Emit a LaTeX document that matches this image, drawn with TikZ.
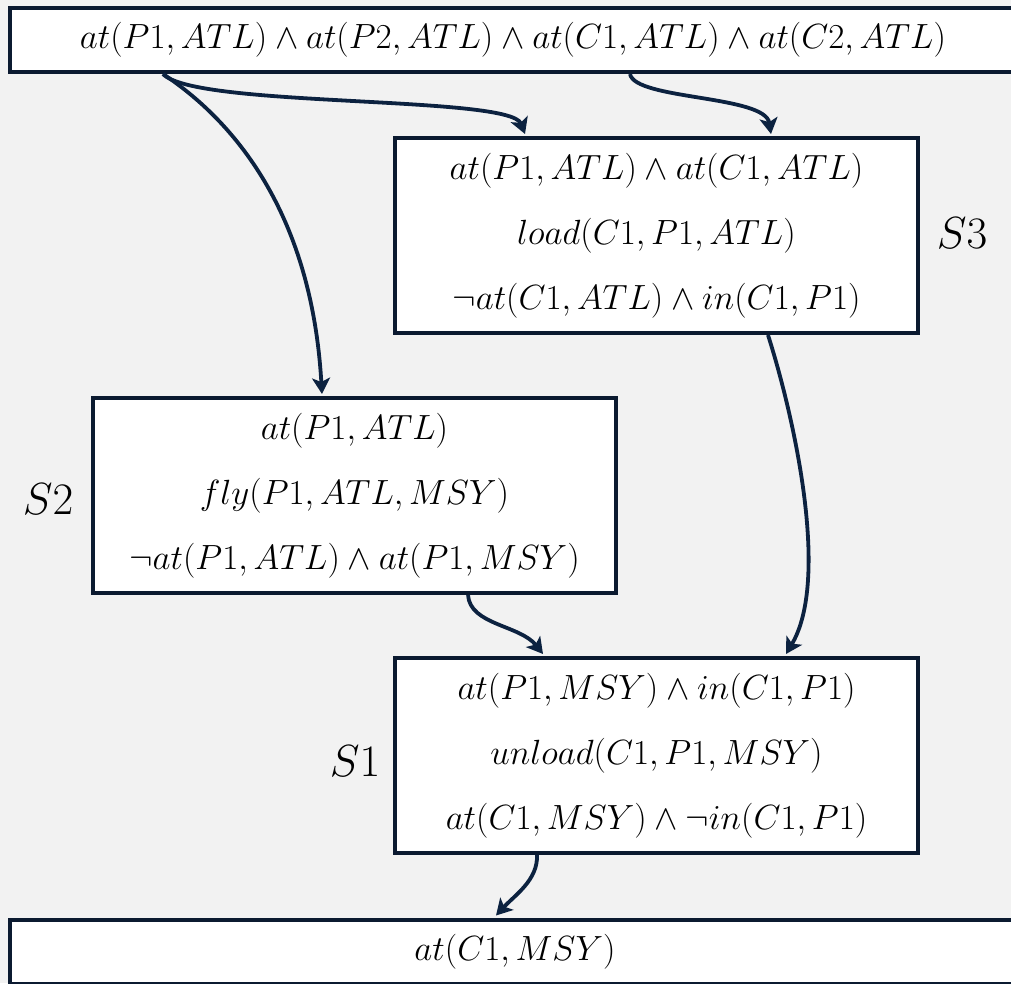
\RequirePackage{fix-cm}
\documentclass[tikz,border=0pt]{standalone}
\usetikzlibrary{arrows.meta,calc}
\definecolor{bg}{HTML}{F2F2F2}
\definecolor{navy}{HTML}{0B1A30}
\definecolor{arrowc}{HTML}{0C2240}
\begin{document}
\begin{tikzpicture}[x=1pt,y=-1pt,
  box/.style={draw=navy,line width=4pt,fill=white,inner sep=0pt,align=center,font=\fontsize{35}{65}\selectfont},
  lbl/.style={font=\fontsize{45}{50}\selectfont,inner sep=0pt},
  arr/.style={draw=arrowc,line width=3.8pt,-{Stealth[length=16pt,width=18pt,inset=4pt]}}]
\fill[bg] (0,0) rectangle (1011,983);
\useasboundingbox (0,0) rectangle (1011,983);
\begin{scope}
\clip (0,0) rectangle (1011,983);
\node[box,minimum width=1006pt,minimum height=64.5pt] (top) at (513,39.75)
  {$at(P1,ATL)\wedge at(P2,ATL)\wedge at(C1,ATL)\wedge at(C2,ATL)$};
\node[box,minimum width=523pt,minimum height=195pt] (s3) at (656.5,235.5)
  {$at(P1,ATL)\wedge at(C1,ATL)$\\ $load(C1,P1,ATL)$\\ $\neg at(C1,ATL)\wedge in(C1,P1)$};
\node[box,minimum width=523pt,minimum height=195pt] (s2) at (354.5,495.5)
  {$at(P1,ATL)$\\ $fly(P1,ATL,MSY)$\\ $\neg at(P1,ATL)\wedge at(P1,MSY)$};
\node[box,minimum width=523pt,minimum height=195pt] (s1) at (656.5,755.5)
  {$at(P1,MSY)\wedge in(C1,P1)$\\ $unload(C1,P1,MSY)$\\ $at(C1,MSY)\wedge\neg in(C1,P1)$};
\node[box,minimum width=1010pt,minimum height=64pt] (goal) at (515,951.5)
  {$at(C1,MSY)$};
\node[lbl] (l3) at (962,233) {$S3$};
\node[lbl] (l2) at (48,499) {$S2$};
\node[lbl] (l1) at (355,761) {$S1$};
\draw[arr] ($(top.south west)+(155,0)$) .. controls (240,125) and (312,220) .. ($(s2.north west)+(231,-2)$);
\draw[arr] ($(top.south west)+(155,0)$) .. controls (195,108) and (510,95) .. ($(s3.north west)+(132,-2)$);
\draw[arr] ($(top.south west)+(622,0)$) .. controls (635,100) and (765,95) .. ($(s3.north west)+(378,-2)$);
\draw[arr] ($(s3.south west)+(375,0)$) .. controls (795,420) and (830,580) .. ($(s1.north west)+(393,-2)$);
\draw[arr] ($(s2.south west)+(377,0)$) .. controls (470,625) and (520,625) .. ($(s1.north west)+(150,-2)$);
\draw[arr] ($(s1.south west)+(144,0)$) .. controls (538,880) and (515,895) .. ($(goal.north west)+(488,-2)$);
\end{scope}
\end{tikzpicture}
\end{document}
